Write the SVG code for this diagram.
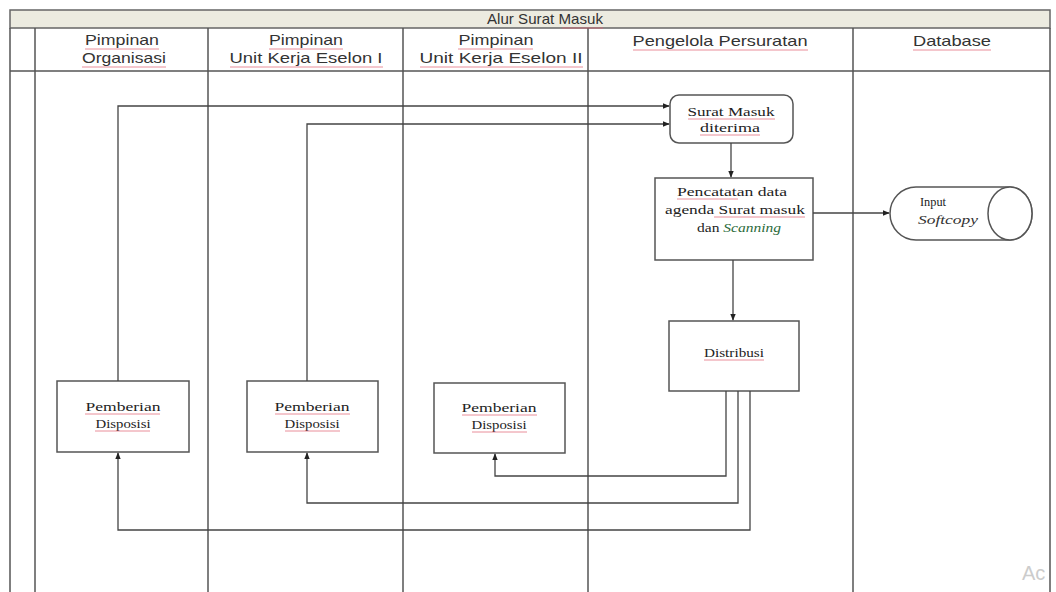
<svg xmlns="http://www.w3.org/2000/svg" width="1056" height="592" viewBox="0 0 1056 592">
<defs>
<style>
.frame{fill:none;stroke:#555;stroke-width:1.5}
.lane{stroke:#555;stroke-width:1.5}
.hdr{font-family:"Liberation Sans",Arial,sans-serif;font-size:15px;fill:#333;text-anchor:middle}
.node rect{fill:#fff;stroke:#555;stroke-width:1.5}
.nt{font-family:"Liberation Serif","Times New Roman",serif;font-size:13px;fill:#222;text-anchor:middle}
.conn path{fill:none;stroke:#444;stroke-width:1.3}
.ul{stroke:#e06070;stroke-width:1;fill:none;opacity:0.7}
</style>
<marker id="arr" viewBox="0 0 10 10" refX="9" refY="5" markerWidth="7" markerHeight="7" orient="auto" markerUnits="userSpaceOnUse">
<path d="M0,1 L10,5 L0,9 z" fill="#222"/>
</marker>
</defs>
<rect width="1056" height="592" fill="#fff"/>
<g id="pool">
<rect x="10" y="10" width="1040" height="18" fill="#ecebe0" stroke="#666" stroke-width="1.5"/>
<text class="hdr" x="545" y="24" textLength="116" lengthAdjust="spacingAndGlyphs">Alur Surat Masuk</text>
<path class="frame" d="M10,28 V592 M1050,28 V592"/>
<line class="lane" x1="10" y1="71" x2="1050" y2="71"/>
<line class="lane" x1="35" y1="28" x2="35" y2="592"/>
<line class="lane" x1="208" y1="28" x2="208" y2="592"/>
<line class="lane" x1="403" y1="28" x2="403" y2="592"/>
<line class="lane" x1="588" y1="28" x2="588" y2="592"/>
<line class="lane" x1="853" y1="28" x2="853" y2="592"/>
<text class="hdr" x="122" y="45" textLength="74" lengthAdjust="spacingAndGlyphs">Pimpinan</text>
<text class="hdr" x="124" y="63" textLength="84" lengthAdjust="spacingAndGlyphs">Organisasi</text>
<text class="hdr" x="306" y="45" textLength="74" lengthAdjust="spacingAndGlyphs">Pimpinan</text>
<text class="hdr" x="306" y="63" textLength="153" lengthAdjust="spacingAndGlyphs">Unit Kerja Eselon I</text>
<text class="hdr" x="496" y="45" textLength="75" lengthAdjust="spacingAndGlyphs">Pimpinan</text>
<text class="hdr" x="501" y="63" textLength="163" lengthAdjust="spacingAndGlyphs">Unit Kerja Eselon II</text>
<text class="hdr" x="720" y="46" textLength="175" lengthAdjust="spacingAndGlyphs">Pengelola  Persuratan</text>
<text class="hdr" x="952" y="46" textLength="78" lengthAdjust="spacingAndGlyphs">Database</text>
<path class="ul" d="M562,28 H603 M85,49 H159 M82,67 H166 M269,49 H343 M230,67 H383 M458,49 H533 M420,67 H583 M633,50 H808 M913,50 H991"/>
</g>
<g id="n_surat_masuk" class="node">
<rect x="670" y="95" width="123" height="48" rx="9"/>
<text class="nt" x="731" y="116" textLength="87" lengthAdjust="spacingAndGlyphs">Surat Masuk</text>
<text class="nt" x="730" y="132" textLength="60" lengthAdjust="spacingAndGlyphs">diterima</text>
<path class="ul" d="M688,119 H775 M700,135 H760"/>
</g>
<g id="n_pencatatan" class="node">
<rect x="655" y="178" width="158" height="82"/>
<text class="nt" x="732" y="196" textLength="110" lengthAdjust="spacingAndGlyphs">Pencatatan data</text>
<text class="nt" x="735" y="214" textLength="140" lengthAdjust="spacingAndGlyphs">agenda Surat masuk</text>
<text class="nt" x="739" y="232" textLength="84" lengthAdjust="spacingAndGlyphs">dan <tspan font-style="italic" fill="#2a6a3a">Scanning</tspan></text>
<path class="ul" d="M677,199 H738 M714,217 H805"/>
</g>
<g id="n_input" class="node">
<path d="M916,187 H1010 A22,26.5 0 0 1 1010,240 H916 A26,26.5 0 0 1 916,187 z" fill="#fff" stroke="#555" stroke-width="1.5"/>
<ellipse cx="1010" cy="213.5" rx="22" ry="26.5" fill="#fff" stroke="#555" stroke-width="1.5"/>
<text x="920" y="206" font-family="'Liberation Serif','Times New Roman',serif" font-size="13" fill="#222" textLength="26" lengthAdjust="spacingAndGlyphs">Input</text>
<text x="918" y="224" font-family="'Liberation Serif','Times New Roman',serif" font-size="12" font-style="italic" fill="#333" textLength="60" lengthAdjust="spacingAndGlyphs">Softcopy</text>
</g>
<g id="n_distribusi" class="node">
<rect x="669" y="321" width="130" height="70"/>
<text class="nt" x="734" y="357" textLength="60" lengthAdjust="spacingAndGlyphs">Distribusi</text>
<path class="ul" d="M704,360 H764"/>
</g>
<g id="n_disposisi_1" class="node">
<rect x="57" y="381" width="132" height="71"/>
<text class="nt" x="123" y="411" textLength="75" lengthAdjust="spacingAndGlyphs">Pemberian</text>
<text class="nt" x="123" y="428" textLength="55" lengthAdjust="spacingAndGlyphs">Disposisi</text>
<path class="ul" d="M85,414 H160 M95,431 H150"/>
</g>
<g id="n_disposisi_2" class="node">
<rect x="247" y="381" width="131" height="71"/>
<text class="nt" x="312" y="411" textLength="75" lengthAdjust="spacingAndGlyphs">Pemberian</text>
<text class="nt" x="312" y="428" textLength="55" lengthAdjust="spacingAndGlyphs">Disposisi</text>
<path class="ul" d="M275,414 H350 M285,431 H340"/>
</g>
<g id="n_disposisi_3" class="node">
<rect x="434" y="383" width="131" height="70"/>
<text class="nt" x="499" y="412" textLength="75" lengthAdjust="spacingAndGlyphs">Pemberian</text>
<text class="nt" x="499" y="429" textLength="55" lengthAdjust="spacingAndGlyphs">Disposisi</text>
<path class="ul" d="M462,415 H537 M472,432 H527"/>
</g>
<g id="connectors" class="conn">
<path d="M118,381 V106 H669" marker-end="url(#arr)"/>
<path d="M307,381 V124 H669" marker-end="url(#arr)"/>
<path d="M731,143 V177" marker-end="url(#arr)"/>
<path d="M813,213 H889" marker-end="url(#arr)"/>
<path d="M733,260 V320" marker-end="url(#arr)"/>
<path d="M726,391 V476 H495 V454" marker-end="url(#arr)"/>
<path d="M738,391 V503 H307 V453" marker-end="url(#arr)"/>
<path d="M750,391 V530 H118 V453" marker-end="url(#arr)"/>
</g>
<text x="1022" y="580" font-family="'Liberation Sans',Arial,sans-serif" font-size="20" fill="#ccc">Ac</text>
</svg>
